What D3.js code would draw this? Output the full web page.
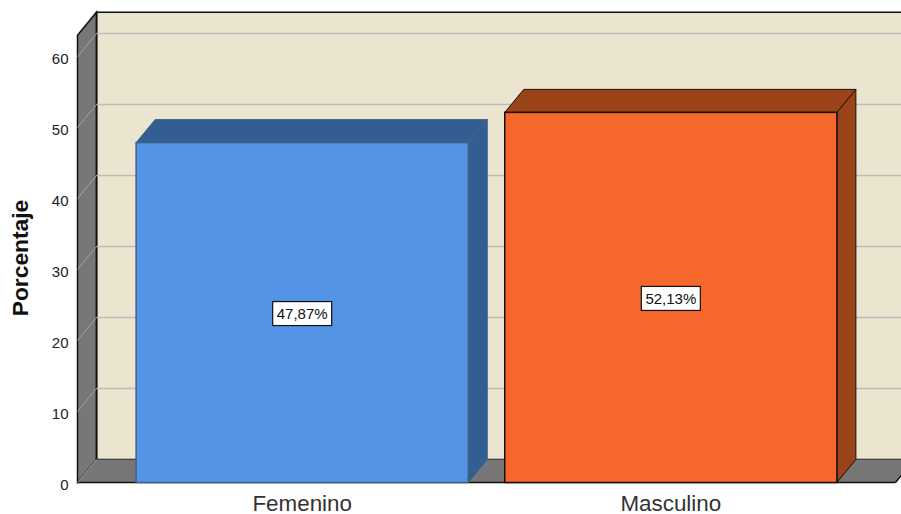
<!DOCTYPE html>
<html>
<head>
<meta charset="utf-8">
<script src="https://cdn.jsdelivr.net/npm/d3@7"></script>
<style>
  html, body { margin: 0; background: #fff; }
  svg { display: block; }
  text { font-family: "Liberation Sans", Arial, sans-serif; }
</style>
</head>
<body>
<div id="chart"></div>
<script>
const categories = [`Femenino`, `Masculino`];
const percentages = [47.87, 52.13];
const valueLabels = [`47,87%`, `52,13%`];
const yTicks = [0, 10, 20, 30, 40, 50, 60];
const yTop = 63;

const faceColors = [`#5494e6`, `#f5672a`];
const sideColors = [`#335e92`, `#9a4218`];
const strokeColors = [`#3f6288`, `#1a1008`];

const width = 901;
const height = 514;
const depthX = 19;
const depthY = -23;

const x = d3.scaleBand()
  .domain(categories)
  .range([77.5, 895.5])
  .paddingInner(0.099)
  .paddingOuter(0.159);

const y = d3.scaleLinear()
  .domain([0, yTop])
  .range([482.5, 482.5 - 7.1 * yTop]);

const svg = d3.select(`#chart`).append(`svg`)
  .attr(`width`, width)
  .attr(`height`, height);

const poly = (pts) => `M${pts.join(`L`)}Z`;
const x0 = x.range()[0];
const x1 = x.range()[1];
const back = ([px, py]) => [px + depthX, py + depthY];

// back wall
svg.append(`path`)
  .attr(`d`, poly([back([x0, y(yTop)]), back([x1, y(yTop)]), back([x1, y(0)]), back([x0, y(0)])]))
  .attr(`fill`, `#ebe5d0`)
  .attr(`stroke`, `#111`)
  .attr(`stroke-width`, 1.5);

// side wall
svg.append(`path`)
  .attr(`d`, poly([[x0, y(yTop)], back([x0, y(yTop)]), back([x0, y(0)]), [x0, y(0)]]))
  .attr(`fill`, `#777`)
  .attr(`stroke`, `#111`)
  .attr(`stroke-width`, 1.5);

// floor
svg.append(`path`)
  .attr(`d`, poly([[x0, y(0)], back([x0, y(0)]), back([x1, y(0)]), [x1, y(0)]]))
  .attr(`fill`, `#777`)
  .attr(`stroke`, `none`);
svg.append(`line`)
  .attr(`x1`, x0).attr(`x2`, x1)
  .attr(`y1`, y(0)).attr(`y2`, y(0))
  .attr(`stroke`, `#111`)
  .attr(`stroke-width`, 1.5);
svg.append(`line`)
  .attr(`x1`, x1).attr(`x2`, x1 + depthX)
  .attr(`y1`, y(0)).attr(`y2`, y(0) + depthY)
  .attr(`stroke`, `#111`)
  .attr(`stroke-width`, 1.5);
svg.append(`line`)
  .attr(`x1`, back([x0, 0])[0]).attr(`x2`, back([x0, 0])[0])
  .attr(`y1`, back([0, y(yTop)])[1]).attr(`y2`, back([0, y(0)])[1])
  .attr(`stroke`, `#111`)
  .attr(`stroke-width`, 1.5);

// gridlines, back wall and side wall
const gridValues = yTicks.filter((d) => d > 0);
svg.append(`g`).selectAll(`line`)
  .data(gridValues)
  .join(`line`)
  .attr(`x1`, x0 + depthX)
  .attr(`x2`, x1 + depthX)
  .attr(`y1`, (d) => y(d) + depthY)
  .attr(`y2`, (d) => y(d) + depthY)
  .attr(`stroke`, `#bdbcb6`)
  .attr(`stroke-width`, 1.5);
svg.append(`g`).selectAll(`line`)
  .data(yTicks)
  .join(`line`)
  .attr(`x1`, x0)
  .attr(`x2`, x0 + depthX)
  .attr(`y1`, (d) => y(d))
  .attr(`y2`, (d) => y(d) + depthY)
  .attr(`stroke`, `#a3a3a3`)
  .attr(`stroke-width`, 1);

// bars
const bars = svg.append(`g`).selectAll(`g`)
  .data(categories)
  .join(`g`);

bars.append(`path`)
  .attr(`d`, (d, i) => {
    const l = x(d) + x.bandwidth();
    return poly([[l, y(percentages[i])], back([l, y(percentages[i])]), back([l, y(0)]), [l, y(0)]]);
  })
  .attr(`fill`, (d, i) => sideColors[i])
  .attr(`stroke`, (d, i) => strokeColors[i])
  .attr(`stroke-width`, 1);

bars.append(`path`)
  .attr(`d`, (d, i) => {
    const t = y(percentages[i]);
    return poly([[x(d), t], back([x(d), t]), back([x(d) + x.bandwidth(), t]), [x(d) + x.bandwidth(), t]]);
  })
  .attr(`fill`, (d, i) => sideColors[i])
  .attr(`stroke`, (d, i) => strokeColors[i])
  .attr(`stroke-width`, 1);

bars.append(`rect`)
  .attr(`x`, (d) => x(d))
  .attr(`y`, (d, i) => y(percentages[i]))
  .attr(`width`, x.bandwidth())
  .attr(`height`, (d, i) => y(0) - y(percentages[i]))
  .attr(`fill`, (d, i) => faceColors[i])
  .attr(`stroke`, (d, i) => strokeColors[i])
  .attr(`stroke-width`, 1.5);

// value labels
const labels = svg.append(`g`).selectAll(`g`)
  .data(categories)
  .join(`g`)
  .attr(`transform`, (d, i) => `translate(${x(d) + x.bandwidth() / 2},${y(percentages[i] / 2) + 1})`);

labels.append(`rect`)
  .attr(`x`, -29.5)
  .attr(`y`, -12)
  .attr(`width`, 59)
  .attr(`height`, 24)
  .attr(`fill`, `#fff`)
  .attr(`stroke`, `#111`)
  .attr(`stroke-width`, 1.2);

labels.append(`text`)
  .attr(`text-anchor`, `middle`)
  .attr(`dy`, `0.36em`)
  .attr(`font-size`, 15)
  .attr(`fill`, `#111`)
  .text((d, i) => valueLabels[i]);

// axes
const yAxis = svg.append(`g`)
  .attr(`transform`, `translate(${x0},2.5)`)
  .call(d3.axisLeft(y).tickValues(yTicks).tickFormat(d3.format(`d`)).tickSize(0).tickPadding(9));
yAxis.select(`.domain`).remove();
yAxis.selectAll(`text`)
  .attr(`font-size`, 15)
  .attr(`font-family`, `"Liberation Sans", Arial, sans-serif`)
  .attr(`fill`, `#222`);

const xAxis = svg.append(`g`)
  .attr(`transform`, `translate(0,${y(0)})`)
  .call(d3.axisBottom(x).tickSize(0).tickPadding(13));
xAxis.select(`.domain`).remove();
xAxis.selectAll(`text`)
  .attr(`font-size`, 22.4)
  .attr(`font-family`, `"Liberation Sans", Arial, sans-serif`)
  .attr(`fill`, `#333`);

svg.append(`text`)
  .attr(`transform`, `translate(28,258) rotate(-90)`)
  .attr(`text-anchor`, `middle`)
  .attr(`font-size`, 22.8)
  .attr(`font-weight`, `bold`)
  .attr(`fill`, `#111`)
  .text(`Porcentaje`);
</script>
</body>
</html>
